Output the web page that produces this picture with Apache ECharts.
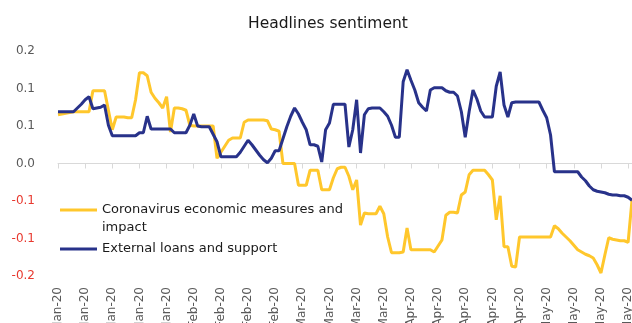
<!DOCTYPE html>
<html>
<head>
<meta charset="utf-8">
<script src="https://cdn.jsdelivr.net/npm/echarts@6/dist/echarts.min.js"></script>
<style>
html, body { margin: 0; padding: 0; background: #fff; }
#chart { width: 632px; height: 323px; }
</style>
</head>
<body>
<div id="chart"></div>
<script>
// daily categories, 1 Jan 2020 onwards
const startDay = Date.UTC(2020, 0, 1);
const dayCount = 149;
const categories = [];
for (let i = 0; i < dayCount; i++) {
    categories.push(new Date(startDay + i * 86400000).toISOString().slice(0, 10));
}

// one x label every 7 days
const xTickLabels = [
    'Jan-20', 'Jan-20', 'Jan-20', 'Jan-20', 'Jan-20',
    'Feb-20', 'Feb-20', 'Feb-20', 'Feb-20',
    'Mar-20', 'Mar-20', 'Mar-20', 'Mar-20',
    'Apr-20', 'Apr-20', 'Apr-20', 'Apr-20', 'Apr-20',
    'May-20', 'May-20', 'May-20', 'May-20'
];
const yTickLabels = ['-0.2', '-0.1', '-0.1', '0.0', '0.1', '0.1', '0.2'];

const seriesNames = ['Coronavirus economic measures and impact', 'External loans and support'];

const coronavirus = [
    0.065, 0.066, 0.067, 0.068, 0.069, 0.069, 0.069, 0.069, 0.069, 0.097,
    0.097, 0.097, 0.097, 0.071, 0.045, 0.062, 0.062, 0.062, 0.061, 0.061,
    0.085, 0.121, 0.121, 0.117, 0.095, 0.087, 0.081, 0.074, 0.089, 0.042,
    0.074, 0.074, 0.073, 0.071, 0.051, 0.050, 0.050, 0.050, 0.050, 0.050,
    0.050, 0.007, 0.015, 0.023, 0.031, 0.034, 0.034, 0.034, 0.055, 0.058,
    0.058, 0.058, 0.058, 0.058, 0.057, 0.046, 0.045, 0.043, 0.000, 0.000,
    0.000, 0.000, -0.029, -0.029, -0.029, -0.009, -0.009, -0.009, -0.035, -0.035,
    -0.035, -0.019, -0.007, -0.005, -0.005, -0.017, -0.035, -0.022, -0.082, -0.066,
    -0.067, -0.067, -0.067, -0.057, -0.067, -0.098, -0.119, -0.119, -0.119, -0.118,
    -0.086, -0.115, -0.115, -0.115, -0.115, -0.115, -0.115, -0.118, -0.110, -0.102,
    -0.069, -0.065, -0.065, -0.066, -0.042, -0.038, -0.015, -0.009, -0.009, -0.009,
    -0.009, -0.015, -0.022, -0.075, -0.043, -0.111, -0.111, -0.137, -0.138, -0.098,
    -0.098, -0.098, -0.098, -0.098, -0.098, -0.098, -0.098, -0.098, -0.083, -0.087,
    -0.093, -0.098, -0.103, -0.109, -0.115, -0.118, -0.121, -0.123, -0.126, -0.135,
    -0.146, -0.122, -0.099, -0.101, -0.102, -0.103, -0.103, -0.105, -0.049
];

const external = [
    0.069, 0.069, 0.069, 0.069, 0.069, 0.074, 0.079, 0.085, 0.089, 0.073,
    0.074, 0.075, 0.078, 0.051, 0.037, 0.037, 0.037, 0.037, 0.037, 0.037,
    0.037, 0.041, 0.041, 0.063, 0.046, 0.046, 0.046, 0.046, 0.046, 0.046,
    0.041, 0.041, 0.041, 0.041, 0.051, 0.066, 0.050, 0.049, 0.049, 0.049,
    0.039, 0.029, 0.009, 0.009, 0.009, 0.009, 0.009, 0.015, 0.023, 0.031,
    0.025, 0.018, 0.011, 0.005, 0.001, 0.007, 0.017, 0.017, 0.033, 0.049,
    0.063, 0.074, 0.066, 0.055, 0.045, 0.025, 0.025, 0.023, 0.002, 0.045,
    0.054, 0.079, 0.079, 0.079, 0.079, 0.022, 0.045, 0.085, 0.014, 0.065,
    0.073, 0.074, 0.074, 0.074, 0.069, 0.063, 0.051, 0.035, 0.035, 0.109,
    0.125, 0.111, 0.098, 0.081, 0.075, 0.070, 0.098, 0.101, 0.101, 0.101,
    0.097, 0.095, 0.095, 0.090, 0.069, 0.035, 0.069, 0.098, 0.086, 0.070,
    0.062, 0.062, 0.062, 0.103, 0.122, 0.078, 0.062, 0.081, 0.082, 0.082,
    0.082, 0.082, 0.082, 0.082, 0.082, 0.071, 0.061, 0.038, -0.011, -0.011,
    -0.011, -0.011, -0.011, -0.011, -0.011, -0.018, -0.023, -0.030, -0.035, -0.037,
    -0.038, -0.039, -0.041, -0.042, -0.042, -0.043, -0.043, -0.045, -0.049
];

const font = 'DejaVu Sans';
const yellow = '#ffc72c';
const navy = '#28328a';

let chart = echarts.init(document.getElementById('chart'));
let option = {
    animation: false,
    title: {
        text: 'Headlines sentiment',
        left: 248,
        top: 16,
        padding: 0,
        textStyle: { fontFamily: font, fontSize: 15.5, fontWeight: 'normal', color: '#1a1a1a' }
    },
    legend: [
        {
            data: [seriesNames[0]],
            left: 60,
            top: 201,
            padding: 0,
            // line sits at the top of a taller box so it lines up with the first text row
            icon: 'path://M0,0L37,0L37,3L0,3Z M0,21L0.01,21Z',
            itemWidth: 37,
            itemHeight: 21,
            itemStyle: { borderWidth: 0 },
            selectedMode: false,
            formatter: function (name) {
                return name.replace('and impact', 'and\nimpact');
            },
            textStyle: { fontFamily: font, fontSize: 13, color: '#1a1a1a', lineHeight: 18 }
        },
        {
            data: [seriesNames[1]],
            left: 60,
            top: 240,
            padding: 0,
            icon: 'rect',
            itemWidth: 37,
            itemHeight: 3,
            itemStyle: { borderWidth: 0 },
            selectedMode: false,
            textStyle: { fontFamily: font, fontSize: 13, color: '#1a1a1a', lineHeight: 18 }
        }
    ],
    grid: { left: 58, right: 0, top: 51, bottom: 47, containLabel: false, outerBoundsMode: 'none' },
    xAxis: [
        {
            // line through zero with the ticks
            type: 'category',
            data: categories,
            position: 'bottom',
            boundaryGap: false,
            axisLine: { onZero: true, lineStyle: { color: '#d9d9d9', width: 1 } },
            axisTick: { show: true, interval: 6, length: 5, lineStyle: { color: '#d9d9d9' } },
            axisLabel: { show: false },
            splitLine: { show: false }
        },
        {
            // labels sit at the bottom of the plot
            type: 'category',
            data: categories,
            position: 'bottom',
            boundaryGap: false,
            axisLine: { show: false, onZero: false },
            axisTick: { show: false },
            axisLabel: {
                interval: 6,
                rotate: 90,
                margin: 11,
                fontFamily: font,
                fontSize: 12,
                color: '#595959',
                formatter: function (value, index) {
                    return xTickLabels[Math.round(index / 7)];
                }
            },
            splitLine: { show: false }
        }
    ],
    yAxis: {
        type: 'value',
        min: -0.15,
        max: 0.15,
        interval: 0.05,
        axisLine: { show: false },
        axisTick: { show: false },
        splitLine: { show: false },
        axisLabel: {
            margin: 23,
            fontFamily: font,
            fontSize: 12,
            color: function (value) {
                return value < 0 ? '#e8392f' : '#595959';
            },
            formatter: function (value, index) {
                return yTickLabels[index];
            }
        }
    },
    series: [
        {
            name: seriesNames[0],
            type: 'line',
            xAxisIndex: 0,
            data: coronavirus,
            symbol: 'none',
            itemStyle: { color: yellow },
            lineStyle: { color: yellow, width: 3 }
        },
        {
            name: seriesNames[1],
            type: 'line',
            xAxisIndex: 0,
            data: external,
            symbol: 'none',
            itemStyle: { color: navy },
            lineStyle: { color: navy, width: 3 }
        }
    ]
};
chart.setOption(option);
</script>
</body>
</html>
